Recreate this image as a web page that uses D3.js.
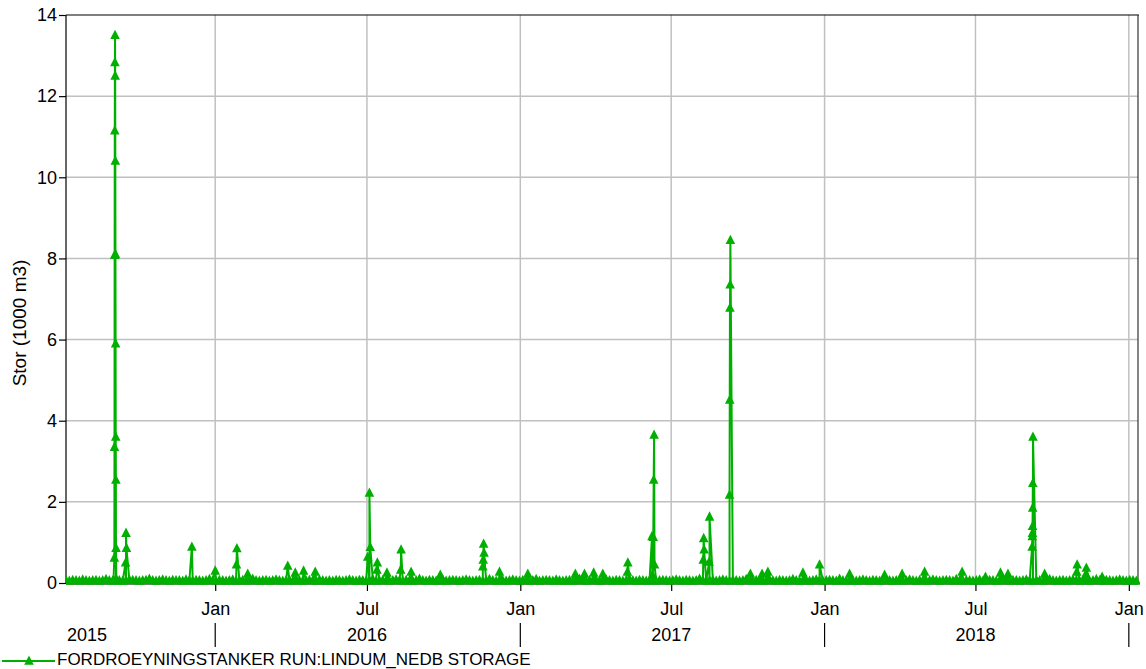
<!DOCTYPE html>
<html>
<head>
<meta charset="utf-8">
<script src="https://cdn.jsdelivr.net/npm/d3@7"></script>
<style>
  html, body { margin: 0; padding: 0; background: #fff; }
  svg { display: block; font-family: "Liberation Sans", Arial, sans-serif; }
</style>
</head>
<body>
<svg id="chart" width="1146" height="669"></svg>
<script>
// ---------------- DATA ----------------
const seriesName = "FORDROEYNINGSTANKER RUN:LINDUM_NEDB STORAGE";
const yLabel = "Stor (1000 m3)";
const timeDomain = ["2015-07-06", "2019-01-12"];
const yTicks = [0, 2, 4, 6, 8, 10, 12, 14];
const monthTicks = ["2016-01-01", "2016-07-01", "2017-01-01", "2017-07-01", "2018-01-01", "2018-07-01", "2019-01-01"];
const monthLabels = ["Jan", "Jul", "Jan", "Jul", "Jan", "Jul", "Jan"];
const yearLabels = ["2015", "2016", "2017", "2018"];
const yearDividers = ["2016-01-01", "2017-01-01", "2018-01-01", "2019-01-01"];

// baseline storage, one reading every 4 days starting at baseStart
const baseStart = "2015-07-06";
const baseStepDays = 4;
const baseValues = [
  0.06,0.05,0.07,0.06,0.05,0.08,0.06,0.05,0.06,0.07,0.05,0.06,0.09,0.06,0.05,0.07,0.06,0.05,0.06,0.08,
  0.07,0.06,0.05,0.06,0.07,0.10,0.06,0.05,0.06,0.08,0.06,0.05,0.07,0.06,0.06,0.05,0.08,0.06,0.05,0.07,
  0.06,0.05,0.06,0.09,0.06,0.05,0.07,0.06,0.05,0.06,0.08,0.05,0.06,0.07,0.05,0.06,0.10,0.06,0.05,0.06,
  0.07,0.05,0.06,0.08,0.06,0.05,0.06,0.07,0.05,0.09,0.06,0.05,0.06,0.07,0.06,0.05,0.08,0.06,0.05,0.06,
  0.05,0.07,0.06,0.05,0.06,0.08,0.06,0.05,0.07,0.06,0.05,0.06,0.09,0.05,0.06,0.07,0.06,0.05,0.06,0.08,
  0.06,0.05,0.07,0.06,0.05,0.06,0.10,0.06,0.05,0.07,0.06,0.05,0.06,0.08,0.05,0.06,0.07,0.06,0.05,0.06,
  0.08,0.06,0.05,0.06,0.07,0.05,0.06,0.09,0.06,0.05,0.07,0.06,0.05,0.06,0.08,0.06,0.05,0.07,0.06,0.05,
  0.06,0.09,0.05,0.06,0.07,0.06,0.05,0.08,0.06,0.05,0.06,0.07,0.05,0.06,0.10,0.06,0.05,0.06,0.07,0.06,
  0.05,0.06,0.08,0.06,0.05,0.07,0.06,0.05,0.06,0.09,0.06,0.05,0.07,0.06,0.05,0.06,0.08,0.05,0.06,0.07,
  0.06,0.05,0.06,0.08,0.06,0.05,0.07,0.06,0.05,0.06,0.10,0.06,0.05,0.06,0.07,0.05,0.06,0.08,0.06,0.05,
  0.07,0.06,0.05,0.06,0.09,0.06,0.05,0.07,0.06,0.05,0.06,0.08,0.06,0.05,0.07,0.06,0.05,0.06,0.09,0.06,
  0.05,0.06,0.07,0.05,0.06,0.08,0.06,0.05,0.06,0.07,0.06,0.05,0.10,0.06,0.05,0.07,0.06,0.05,0.06,0.08,
  0.06,0.05,0.07,0.06,0.05,0.06,0.09,0.06,0.05,0.06,0.07,0.05,0.06,0.08,0.06,0.05,0.07,0.06,0.05,0.06,
  0.08,0.06,0.05,0.06,0.07,0.06,0.05,0.09,0.06,0.05,0.07,0.06,0.05,0.06,0.08,0.05,0.06,0.07,0.06,0.05,
  0.06,0.10,0.06,0.05,0.07,0.06,0.05,0.06,0.08,0.06,0.05,0.07,0.06,0.05,0.06,0.09,0.06,0.05,0.06,0.07,
  0.05,0.06,0.08,0.06,0.05,0.07,0.06,0.05,0.06,0.09,0.06,0.05,0.07,0.06,0.05,0.06,0.08,0.06,0.05,0.07,
  0.06,0.05
];

// storage events (peaks and bumps)
const eventDates = [
  "2015-09-01T00:00","2015-09-02T00:00","2015-09-02T04:00","2015-09-02T08:00","2015-09-02T12:00","2015-09-02T16:00",
  "2015-09-02T20:00","2015-09-03T00:00","2015-09-03T04:00","2015-09-03T08:00","2015-09-03T12:00","2015-09-03T16:00",
  "2015-09-03T20:00","2015-09-04T00:00","2015-09-04T08:00",
  "2015-09-15T12:00","2015-09-16T00:00","2015-09-16T12:00",
  "2015-12-04T00:00","2016-01-01T00:00","2016-01-26T12:00","2016-01-27T00:00","2016-02-09T00:00",
  "2016-03-28T00:00","2016-04-06T00:00","2016-04-16T00:00","2016-04-30T00:00",
  "2016-07-02T00:00","2016-07-04T00:00","2016-07-05T00:00","2016-07-13T00:00","2016-07-13T12:00",
  "2016-07-25T00:00","2016-08-10T12:00","2016-08-11T00:00","2016-08-23T00:00","2016-09-27T00:00",
  "2016-11-17T00:00","2016-11-17T12:00","2016-11-18T00:00","2016-11-18T12:00","2016-12-07T00:00",
  "2017-01-10T00:00","2017-03-08T00:00","2017-03-19T00:00","2017-03-30T00:00","2017-04-10T00:00",
  "2017-05-09T12:00","2017-05-10T00:00",
  "2017-06-08T00:00","2017-06-08T12:00","2017-06-09T12:00","2017-06-10T00:00","2017-06-10T12:00","2017-06-11T00:00",
  "2017-08-08T12:00","2017-08-09T00:00","2017-08-09T12:00","2017-08-15T12:00","2017-08-16T00:00",
  "2017-09-09T00:00","2017-09-09T06:00","2017-09-09T12:00","2017-09-09T18:00","2017-09-10T00:00",
  "2017-10-04T00:00","2017-10-18T00:00","2017-10-25T00:00","2017-12-06T00:00","2017-12-26T00:00",
  "2018-01-31T00:00","2018-03-14T00:00","2018-04-04T00:00","2018-05-01T00:00","2018-06-15T00:00",
  "2018-07-13T00:00","2018-07-31T00:00","2018-08-09T00:00",
  "2018-09-07T00:00","2018-09-07T04:00","2018-09-07T08:00","2018-09-07T12:00","2018-09-07T16:00","2018-09-07T20:00","2018-09-08T00:00",
  "2018-09-22T00:00","2018-10-30T12:00","2018-10-31T00:00","2018-11-10T12:00","2018-11-11T00:00","2018-11-30T00:00"
];
const eventValues = [
  0.08, 0.62, 3.35, 8.08, 11.15, 12.83,
  13.5, 12.5, 10.4, 8.1, 5.9, 3.6,
  2.54, 0.86, 0.1,
  0.5, 1.23, 0.86,
  0.89, 0.3, 0.45, 0.85, 0.22,
  0.42, 0.25, 0.3, 0.27,
  0.64, 2.22, 0.88, 0.32, 0.5,
  0.25, 0.32, 0.82, 0.27, 0.2,
  0.4, 0.57, 0.96, 0.74, 0.27,
  0.22, 0.22, 0.22, 0.25, 0.22,
  0.27, 0.5,
  1.15, 0.2, 1.13, 2.54, 3.65, 0.45,
  0.57, 1.1, 0.82, 0.52, 1.63,
  2.17, 4.51, 6.78, 7.35, 8.45,
  0.22, 0.22, 0.27, 0.25, 0.45,
  0.22, 0.2, 0.22, 0.27, 0.27,
  0.15, 0.25, 0.22,
  0.89, 1.15, 1.23, 1.4, 1.85, 2.46, 3.6,
  0.22, 0.27, 0.45, 0.22, 0.37, 0.15
];

// ---------------- CHART ----------------
const green = "#00b000";
const parse = s => new Date(s.length === 10 ? s + "T00:00:00Z" : s + ":00Z");
const dayMs = 86400000;

const points = [];
const t0 = parse(baseStart).getTime();
baseValues.forEach((v, i) => points.push({ t: new Date(t0 + i * baseStepDays * dayMs), v }));
eventDates.forEach((d, i) => points.push({ t: parse(d), v: eventValues[i] }));
points.sort((a, b) => a.t - b.t);

const L = 66, R = 1138, T = 15, B = 583;
const x = d3.scaleUtc().domain(timeDomain.map(parse)).range([L, R]);
const y = d3.scaleLinear().domain([0, 14]).range([B, T]);

const svg = d3.select("#chart");

// grid
const grid = svg.append("g").attr("stroke", "#c0c0c0").attr("stroke-width", 1.5);
yTicks.filter(v => v > 0 && v < 14).forEach(v => {
  grid.append("line").attr("x1", L).attr("x2", R).attr("y1", y(v)).attr("y2", y(v));
});
monthTicks.forEach(d => {
  grid.append("line").attr("x1", x(parse(d))).attr("x2", x(parse(d))).attr("y1", T).attr("y2", B);
});

// frame
const frame = svg.append("g").attr("stroke", "#000").attr("stroke-width", 1.2);
frame.append("line").attr("x1", L).attr("x2", R + 1).attr("y1", T).attr("y2", T);
frame.append("line").attr("x1", L).attr("x2", L).attr("y1", T).attr("y2", B + 1);
frame.append("line").attr("x1", R).attr("x2", R).attr("y1", T).attr("y2", B + 1).attr("stroke", "#333");
frame.append("line").attr("x1", L).attr("x2", R).attr("y1", B + 1).attr("y2", B + 1);

// y axis
const yAxis = d3.axisLeft(y).tickValues(yTicks).tickSize(7).tickPadding(2).tickFormat(d3.format("d"));
const gy = svg.append("g").attr("transform", `translate(${L},0)`).call(yAxis);
gy.select(".domain").remove();
gy.selectAll(".tick line").attr("stroke", "#000").attr("stroke-width", 1.2);
gy.selectAll(".tick text").attr("font-size", 18).attr("fill", "#000")
  .attr("font-family", "Liberation Sans, Arial, sans-serif");

// x axis (month row)
const xAxis = d3.axisBottom(x).tickValues(monthTicks.map(parse)).tickSize(7).tickPadding(11)
  .tickFormat((d, i) => monthLabels[i]);
const gx = svg.append("g").attr("transform", `translate(0,${B + 1})`).call(xAxis);
gx.select(".domain").remove();
gx.selectAll(".tick line").attr("stroke", "#000").attr("stroke-width", 1.2);
gx.selectAll(".tick text").attr("font-size", 18).attr("fill", "#000")
  .attr("font-family", "Liberation Sans, Arial, sans-serif");

// year row
const yearG = svg.append("g").attr("font-size", 18).attr("fill", "#000");
yearLabels.forEach(yr => {
  const cx = x(parse(yr + "-07-01"));
  const t = yearG.append("text").attr("y", 641).text(yr);
  const w = t.node().getComputedTextLength();
  const left = Math.max(cx - w / 2, L + 1);
  t.attr("x", left);
});
yearDividers.forEach(d => {
  svg.append("line").attr("x1", x(parse(d))).attr("x2", x(parse(d)))
    .attr("y1", 623).attr("y2", 647).attr("stroke", "#000").attr("stroke-width", 1.2);
});

// y label
svg.append("text").attr("transform", "translate(26,323) rotate(-90)")
  .attr("text-anchor", "middle").attr("font-size", 19).attr("fill", "#000").text(yLabel);

// series line
svg.append("defs").append("clipPath").attr("id", "clip")
  .append("rect").attr("x", L).attr("y", 0).attr("width", R - L + 2).attr("height", B + 10);
const line = d3.line().x(d => x(d.t)).y(d => y(d.v));
const plot = svg.append("g").attr("clip-path", "url(#clip)");
plot.append("path").datum(points).attr("d", line).attr("fill", "none")
  .attr("stroke", green).attr("stroke-width", 2);

// markers
const tri = "M0,-5.5L4.8,3.8L-4.8,3.8Z";
plot.selectAll("path.m").data(points).join("path").attr("class", "m")
  .attr("d", tri).attr("transform", d => `translate(${x(d.t)},${y(d.v)})`)
  .attr("fill", green);

// legend
const lg = svg.append("g");
lg.append("line").attr("x1", 2).attr("x2", 55).attr("y1", 661).attr("y2", 661)
  .attr("stroke", green).attr("stroke-width", 2);
lg.append("path").attr("d", tri).attr("transform", "translate(29,661)").attr("fill", green);
lg.append("text").attr("x", 57).attr("y", 665).attr("font-size", 17).attr("fill", "#000").text(seriesName);
</script>
</body>
</html>
